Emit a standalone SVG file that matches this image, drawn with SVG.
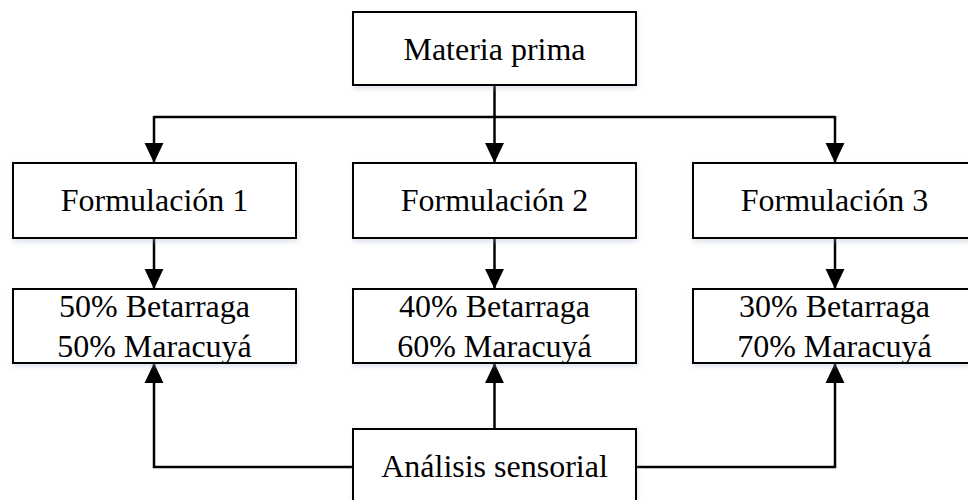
<svg xmlns="http://www.w3.org/2000/svg" width="968" height="500" viewBox="0 0 968 500">
<style>
.box{fill:#fff;stroke:#000;stroke-width:2;filter:url(#sh)}
.t{font-family:"Liberation Serif","Times New Roman",serif;font-size:32px;fill:#000;text-anchor:middle}
.c{fill:none;stroke:#000;stroke-width:2.5}
</style>
<defs>
<filter id="sh" x="-10%" y="-20%" width="120%" height="140%">
<feDropShadow dx="1" dy="3" stdDeviation="2.5" flood-color="#9fb0c8" flood-opacity="0.35"/>
</filter>
<marker id="ah" markerUnits="userSpaceOnUse" markerWidth="20" markerHeight="20" viewBox="0 0 18 18" refX="18" refY="9" orient="auto">
<path d="M0,0.5 L18,9 L0,17.5 Z" fill="#000"/>
</marker>
</defs>
<g id="connectors">
<path class="c" d="M494.5,85 V117"/>
<path class="c" d="M154,117 H835"/>
<path class="c" d="M154,116 V163" marker-end="url(#ah)"/>
<path class="c" d="M494.5,117 V163" marker-end="url(#ah)"/>
<path class="c" d="M835,116 V163" marker-end="url(#ah)"/>
<path class="c" d="M154,238 V289" marker-end="url(#ah)"/>
<path class="c" d="M494.5,238 V289" marker-end="url(#ah)"/>
<path class="c" d="M835,238 V289" marker-end="url(#ah)"/>
<path class="c" d="M353,467 H154 V363" marker-end="url(#ah)"/>
<path class="c" d="M494.5,429 V363" marker-end="url(#ah)"/>
<path class="c" d="M636,467 H835 V363" marker-end="url(#ah)"/>
</g>
<g id="materia">
<rect class="box" x="353" y="12" width="283" height="73"/>
<text class="t" x="494.5" y="60">Materia prima</text>
</g>
<g id="form1">
<rect class="box" x="13" y="163" width="283" height="75"/>
<text class="t" x="154.5" y="211">Formulación 1</text>
</g>
<g id="form2">
<rect class="box" x="353" y="163" width="283" height="75"/>
<text class="t" x="494.5" y="211">Formulación 2</text>
</g>
<g id="form3">
<rect class="box" x="693" y="163" width="283" height="75"/>
<text class="t" x="834.5" y="211">Formulación 3</text>
</g>
<g id="mix1">
<rect class="box" x="13" y="289" width="283" height="74"/>
<text class="t" x="154.5" y="317">50% Betarraga</text>
<text class="t" x="154.5" y="357">50% Maracuyá</text>
</g>
<g id="mix2">
<rect class="box" x="353" y="289" width="283" height="74"/>
<text class="t" x="494.5" y="317">40% Betarraga</text>
<text class="t" x="494.5" y="357">60% Maracuyá</text>
</g>
<g id="mix3">
<rect class="box" x="693" y="289" width="283" height="74"/>
<text class="t" x="834.5" y="317">30% Betarraga</text>
<text class="t" x="834.5" y="357">70% Maracuyá</text>
</g>
<g id="analisis">
<rect class="box" x="353" y="429" width="283" height="80"/>
<text class="t" x="494.5" y="477">Análisis sensorial</text>
</g>
</svg>
